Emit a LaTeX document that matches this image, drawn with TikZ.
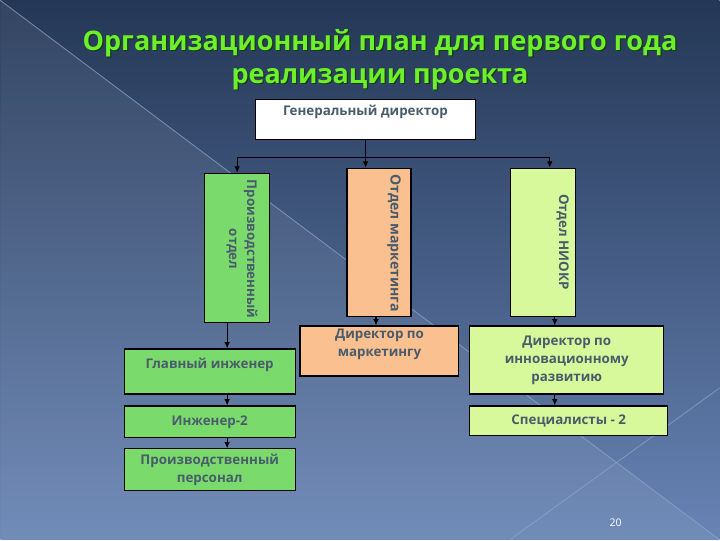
\documentclass[tikz,border=0pt]{standalone}
\usepackage{fontspec}
\setmainfont{Open Sans}
\usetikzlibrary{arrows.meta}
\definecolor{bgtop}{HTML}{243756}
\definecolor{bgbot}{HTML}{6884B5}
\definecolor{prodgreen}{HTML}{7ADB6C}
\definecolor{peach}{HTML}{FAC08F}
\definecolor{lime}{HTML}{D7F99B}
\definecolor{boxtext}{HTML}{4A5C6C}
\definecolor{titlegreen}{HTML}{6CF02A}
\definecolor{titleedge}{HTML}{173A0E}
\definecolor{diagline}{HTML}{8FA6CC}
\tikzset{
  box/.style={draw=black,line width=0.8pt,inner sep=2pt,align=center,
    text=boxtext,font=\bfseries\fontsize{9.5}{12.8}\selectfont},
  boxtxt/.style={text=boxtext,align=center,inner sep=0pt,
    font=\bfseries\fontsize{9.5}{12.8}\selectfont},
  vtxt/.style={boxtxt,rotate=-90},
  titletext/.style={align=center,font=\bfseries\fontsize{19.2}{23.5}\selectfont,
    text=titlegreen},
  conn/.style={line width=0.8pt,-{Latex[length=4.5pt,width=4pt]}},
  bus/.style={line width=0.8pt},
  diag/.style={diagline,line width=0.6pt,opacity=0.7}
}
\begin{document}
\begin{tikzpicture}[x=0.025cm,y=-0.025cm]
  % background
  \shade[top color=bgtop,bottom color=bgbot] (0,0) rectangle (720,540);
  \fill[white,opacity=0.07] (0,0) -- (720,540) -- (0,540) -- cycle;
  \draw[diag] (0,0) -- (720,540);
  \draw[diag] (510,540) -- (720,388);
  \useasboundingbox (0,0) rectangle (720,540);

  % title
  \node[titletext,text=titleedge] (titleshade) at (381.3,60.3)
    {Организационный план для первого года\\реализации проекта};
  \node[titletext] (title) at (380,59)
    {Организационный план для первого года\\реализации проекта};

  % top level
  \node[box,fill=white,minimum width=5.525cm,minimum height=1cm] (gd) at (365.5,119) {};
  \node[boxtxt] (gdtxt) at (365.5,112) {Генеральный директор};

  % departments
  \node[box,fill=prodgreen,minimum width=1.625cm,minimum height=3.725cm] (prod) at (236.5,247.5) {};
  \node[vtxt] (prodtxt) at (242,249) {Производственный\\отдел};
  \node[box,fill=peach,minimum width=1.6cm,minimum height=3.7cm] (mkt) at (379,242) {};
  \node[vtxt,font=\bfseries\fontsize{10}{12.8}\selectfont] (mkttxt) at (394,243) {Отдел маркетинга};
  \node[box,fill=lime,minimum width=1.625cm,minimum height=3.7cm] (niokr) at (543.5,242) {};
  \node[vtxt] (niokrtxt) at (563,242) {Отдел НИОКР};

  % lower levels
  \node[box,fill=prodgreen,minimum width=4.275cm,minimum height=1.125cm] (chief) at (209.5,371.5) {};
  \node[boxtxt] (chieftxt) at (209.5,365) {Главный инженер};
  \node[box,fill=prodgreen,minimum width=4.275cm,minimum height=0.8cm] (eng) at (209.5,422) {Инженер-2};
  \node[box,fill=prodgreen,minimum width=4.275cm,minimum height=1.05cm] (staff) at (209.5,470)
    {Производственный\\персонал};
  \node[box,fill=peach,minimum width=3.975cm,minimum height=1.25cm] (mdir) at (379.5,351)
    {Директор по\\маркетингу\\[-1pt]};
  \node[box,fill=lime,minimum width=4.85cm,minimum height=1.7cm] (idir) at (567,360)
    {Директор по\\инновационному\\развитию};
  \node[box,fill=lime,minimum width=4.95cm,minimum height=0.75cm] (spec) at (569,421) {Специалисты - 2};

  \node[text=white,inner sep=0pt,font=\fontsize{7.5}{9}\selectfont] (pagenum) at (616,523) {20};

  % connectors
  \coordinate (busL) at (237,157);
  \coordinate (busR) at (550,157);
  \coordinate (gcol) at (227,0);
  \coordinate (mcol) at (376,0);
  \coordinate (icol) at (555,0);
  \draw[bus] (busL) -- (busR);
  \draw[conn] (gd.south) -- (gd.south |- mkt.north);
  \draw[conn] (busL) -- (busL |- prod.north);
  \draw[conn] (busR) -- (busR |- niokr.north);
  \draw[conn] (gcol |- prod.south) -- (gcol |- chief.north);
  \draw[conn] (gcol |- chief.south) -- (gcol |- eng.north);
  \draw[conn] (gcol |- eng.south) -- (gcol |- staff.north);
  \draw[conn] (mcol |- mkt.south) -- (mcol |- mdir.north);
  \draw[conn] (icol |- niokr.south) -- (icol |- idir.north);
  \draw[conn] (icol |- idir.south) -- (icol |- spec.north);
\end{tikzpicture}
\end{document}
